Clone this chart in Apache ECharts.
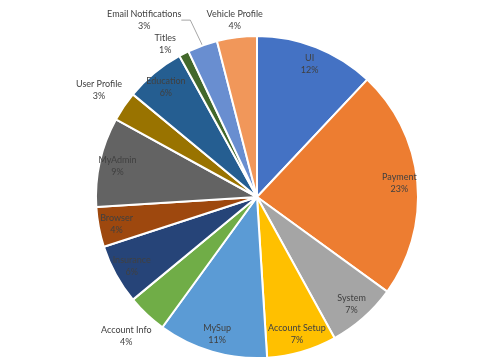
<!DOCTYPE html>
<html><head><meta charset="utf-8">
<script src="https://cdn.jsdelivr.net/npm/echarts@6/dist/echarts.min.js"></script>
<style>html,body{margin:0;padding:0;background:#fff}#c{width:491px;height:364px}</style>
</head><body><div id="c"></div>
<script>
const categories = ['UI','Payment','System','Account Setup','MySup','Account Info','Insurance','Browser','MyAdmin','User Profile','Education','Titles','Email Notifications','Vehicle Profile'];
const values = [12,23,7,7,11,4,6,4,9,3,6,1,3,4];
const palette = ['#4472C4','#ED7D31','#A5A5A5','#FFC000','#5B9BD5','#70AD47','#264478','#9E480E','#636363','#997300','#255E91','#43682B','#698ED0','#F1975A'];
const farNames = ['Account Info','User Profile'];
const nearNames = ['Vehicle Profile'];
const edgeNames = ['Titles','Email Notifications'];
const leaderNames = ['Email Notifications'];

const chart = echarts.init(document.getElementById('c'));
const C = [257,197], R = 161;
const font = {fontFamily:'Lato, "Open Sans", sans-serif', fontSize:9, color:'#404040', lineHeight:12};

const mainData = categories.map((n,i)=>({
  name:n, value:values[i], itemStyle:{color:palette[i]},
  label:{show: edgeNames.includes(n)},
  labelLine: leaderNames.includes(n) ? {show:true} : {show:false, length:11, length2:0}
}));
function overlayData(names){
  return categories.map((n,i)=>({name:n, value:values[i], label:{show: names.includes(n)}}));
}
const insideNames = categories.filter(n=>!farNames.includes(n)&&!nearNames.includes(n)&&!edgeNames.includes(n));
const overlayBase = {
  type:'pie', center:C, startAngle:90, silent:true, percentPrecision:0,
  avoidLabelOverlap:false, itemStyle:{color:'rgba(0,0,0,0)', borderWidth:0},
  labelLine:{show:false}, emphasis:{disabled:true}, animation:false,
  label:Object.assign({position:'inside', formatter:'{b}\n{d}%'}, font)
};
chart.setOption({
  animation:false,
  series:[
    {
      type:'pie', center:C, radius:[0,R], startAngle:90, percentPrecision:0,
      avoidLabelOverlap:false,
      itemStyle:{borderColor:'#fff', borderWidth:2},
      label:Object.assign({position:'outside', formatter:'{b}\n{d}%', distanceToLabelLine:3}, font),
      labelLine:{length:27, length2:9, lineStyle:{color:'#A6A6A6', width:1}},
      labelLayout:function(p){ return {x:p.labelRect.x + p.labelRect.width/2, align:'center'}; },
      emphasis:{disabled:true},
      data:mainData
    },
    Object.assign({}, overlayBase, {radius:[119,R], data:overlayData(insideNames)}),
    Object.assign({}, overlayBase, {radius:[160,216], data:overlayData(farNames)}),
    Object.assign({}, overlayBase, {radius:[150,200], data:overlayData(nearNames)})
  ]
});
</script></body></html>
